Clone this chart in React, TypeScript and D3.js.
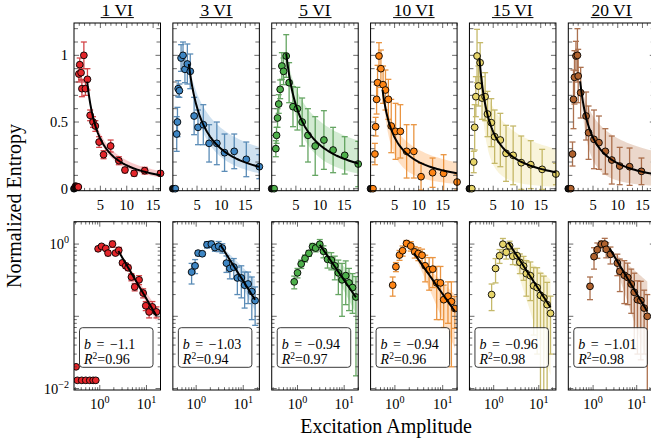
import React from "react";
import * as d3 from "d3";

// ---------- data ----------
const titles = ["1 VI", "3 VI", "5 VI", "10 VI", "15 VI", "20 VI"];
const markerColors = ["#e4252a", "#3e86c4", "#4daf4a", "#ff8515", "#e7d56a", "#b0622e"];
const errorColors = ["#cf3236", "#4a80b0", "#559c52", "#e88a2e", "#bfb25a", "#a4623c"];

const amp1 = [0.31, 0.33, 0.41, 0.5, 0.61, 0.72, 0.82, 0.92, 1.09, 1.34, 1.5, 1.87, 2.17, 2.55, 3.06, 3.6, 4.05, 4.76, 5.6, 6.95, 8.5, 9.66, 11.4, 13.4, 16.4];
const ent1 = [0.02, 0.013, 0.013, 0.013, 0.013, 0.013, 0.013, 0.86, 0.93, 0.87, 0.75, 1.0, 0.75, 0.82, 0.55, 0.5, 0.47, 0.35, 0.255, 0.32, 0.21, 0.14, 0.115, 0.135, 0.115];
const err1 = [0, 0, 0, 0, 0, 0, 0, 0.06, 0.05, 0.05, 0.06, 0.1, 0.05, 0.08, 0.04, 0.04, 0.04, 0.04, 0.03, 0.045, 0.03, 0.02, 0.02, 0.025, 0.02];

const amp3 = [0.5, 0.8, 0.95, 1.1, 1.35, 1.7, 2.1, 2.5, 3.0, 3.6, 4.4, 5.2, 6.3, 7.5, 9.1, 10.7, 12.7, 15.2, 17.9];
const ent3 = [0, 0.41, 0.5, 0.75, 0.735, 0.98, 1.0, 0.895, 0.935, 0.88, 0.545, 0.46, 0.48, 0.34, 0.34, 0.27, 0.28, 0.22, 0.165];
const err3 = [0, 0.13, 0.11, 0.06, 0.05, 0.1, 0.1, 0.1, 0.15, 0.13, 0.14, 0.13, 0.15, 0.14, 0.16, 0.14, 0.13, 0.13, 0.09];

const amp5 = [0.5, 0.85, 1.0, 1.2, 1.45, 1.75, 2.1, 2.45, 3.0, 3.6, 4.4, 5.3, 6.3, 7.5, 9.0, 10.8, 12.7, 15.1, 17.9];
const ent5 = [0, 0.3, 0.4, 0.53, 0.635, 0.745, 0.92, 0.88, 0.995, 0.795, 0.615, 0.6, 0.5, 0.4, 0.32, 0.365, 0.29, 0.25, 0.185];
const err5 = [0, 0.06, 0.06, 0.07, 0.07, 0.07, 0.1, 0.1, 0.16, 0.15, 0.15, 0.16, 0.18, 0.2, 0.22, 0.22, 0.17, 0.14, 0.17];

const amp10 = [0.5, 0.9, 1.05, 1.25, 1.45, 1.75, 2.15, 2.6, 3.1, 3.7, 4.3, 5.2, 6.2, 7.5, 9.0, 10.5, 12.9, 15.2, 18.0];
const ent10 = [0, 0.26, 0.465, 0.67, 0.795, 0.995, 0.9, 0.78, 0.74, 0.67, 0.47, 0.43, 0.43, 0.28, 0.28, 0.09, 0.12, 0.115, 0.05];
const ent10Log = [0, 0.27, 0.485, 0.705, 0.81, 1.02, 0.94, 0.78, 0.74, 0.7, 0.5, 0.44, 0.45, 0.29, 0.29, 0.17, 0.19, 0.16, 0.128];
const err10 = [0, 0.08, 0.07, 0.11, 0.13, 0.1, 0.14, 0.14, 0.15, 0.15, 0.2, 0.21, 0.2, 0.2, 0.2, 0.1, 0.11, 0.14, 0.06];

const amp15 = [0.5, 0.9, 1.1, 1.35, 1.6, 1.9, 2.25, 2.65, 3.3, 3.8, 4.6, 5.3, 6.5, 7.7, 9.2, 10.9, 12.9, 15.3, 18.2];
const ent15 = [0, 0.2, 0.46, 0.69, 0.995, 0.77, 0.945, 0.68, 0.69, 0.56, 0.495, 0.39, 0.365, 0.265, 0.25, 0.195, 0.18, 0.145, 0.11];
const err15 = [0, 0.08, 0.17, 0.15, 0.2, 0.15, 0.15, 0.16, 0.18, 0.17, 0.18, 0.2, 0.2, 0.21, 0.22, 0.2, 0.18, 0.15, 0.08];

const amp20 = [0.5, 0.85, 1.05, 1.25, 1.55, 1.85, 2.0, 2.5, 3.6, 4.1, 5.2, 6.2, 7.5, 8.8, 10.4, 12.4, 14.8, 17.5];
const ent20 = [0, 0.26, 0.67, 0.835, 0.995, 1.0, 0.845, 0.72, 0.545, 0.42, 0.37, 0.345, 0.28, 0.215, 0.17, 0.165, 0.13, 0.1];
const err20 = [0, 0.09, 0.22, 0.2, 0.11, 0.2, 0.2, 0.19, 0.18, 0.2, 0.22, 0.2, 0.17, 0.18, 0.14, 0.14, 0.1, 0.1];

const slopeB = [-1.1, -1.03, -0.94, -0.94, -0.96, -1.01];
const slopeLabels = ["\u22121.1", "\u22121.03", "\u22120.94", "\u22120.94", "\u22120.96", "\u22121.01"];
const rSquared = ["0.96", "0.94", "0.97", "0.96", "0.98", "0.98"];
const fitA = [2.2, 3.2, 2.85, 1.75, 2.0, 1.95];
const fitALog = [2.2, 3.3, 2.75, 1.77, 2.15, 2.1];
const fitStart = [2.5, 3.3, 3.0, 2.5, 2.1, 2.4];
const bandUp = [0.14, 0.38, 0.36, 0.27, 0.41, 0.48];
const bandDown = [0.09, 0.21, 0.29, 0.6, 1.0, 0.8];
const logAmpMin = [0.28, 0.32, 0.28, 0.31, 0.29, 0.27];
const logAmpMax = [20, 22, 20, 20, 24, 26];

const topEntropyDomain = [-0.015, 1.2425];
const logEntropyDomain = [0.00955, 2.04];
const topYTicks = [0, 0.5, 1];
const topYLabels = ["0", "0.5", "1"];
const topXTicks = [5, 10, 15];
const logXTicks = [1, 10];
const logYTicks = [0.01, 0.1, 1];

const amps = [amp1, amp3, amp5, amp10, amp15, amp20];
const ents = [ent1, ent3, ent5, ent10, ent15, ent20];
const entsLog = [ent1, ent3, ent5, ent10Log, ent15, ent20];
const errs = [err1, err3, err5, err10, err15, err20];

// ---------- layout ----------
const W = 651, H = 444;
const panelLeft = 74, panelStep = 98.86, panelWidth = 86.5;
const topRow = { y0: 23, y1: 190.7 };
const logRow = { y0: 221.7, y1: 390 };
const FONT = "'Liberation Serif', 'Times New Roman', serif";
const tickColor = "#444";
const R = 3.4;

function logMinor(lo: number, hi: number) {
  const out: number[] = [];
  for (let e = Math.floor(Math.log10(lo)); e <= Math.ceil(Math.log10(hi)); e++) {
    for (let k = 1; k <= 9; k++) {
      const v = k * Math.pow(10, e);
      if (v >= lo && v <= hi) out.push(v);
    }
  }
  return out;
}

function fitSamples(x0: number, x1: number) {
  return d3.range(0, 61).map((k) => x0 * Math.pow(x1 / x0, k / 60));
}

function ErrorBars({ pts, xs, ys, color, bottom }: any) {
  return (
    <g stroke={color} strokeWidth={1.3} opacity={0.9}>
      {pts.map((p: any, k: number) => {
        if (!p.e) return null;
        const cx = xs(p.x);
        const yt = ys(p.y + p.e);
        const lowV = p.y - p.e;
        const yb = lowV > 0 || !bottom.log ? ys(lowV) : bottom.y + 20;
        return (
          <g key={k}>
            <line x1={cx} x2={cx} y1={yt} y2={yb} />
            <line x1={cx - 3} x2={cx + 3} y1={yt} y2={yt} />
            <line x1={cx - 3} x2={cx + 3} y1={yb} y2={yb} />
          </g>
        );
      })}
    </g>
  );
}

function TopPanel({ i }: { i: number }) {
  const amp = amps[i], ent = ents[i], err = errs[i];
  const x0 = panelLeft + i * panelStep;
  const xmax = d3.max(amp) as number;
  const xs = d3.scaleLinear().domain([0, xmax]).range([x0, x0 + panelWidth]);
  const ys = d3.scaleLinear().domain(topEntropyDomain).range([topRow.y1, topRow.y0]);
  const pts = amp.map((x, k) => ({ x, y: ent[k], e: err[k] }));
  const fx = fitSamples(fitStart[i], xmax);
  const f = (x: number) => fitA[i] * Math.pow(x, slopeB[i]);
  const line = d3.line<number>().x((x) => xs(x)).y((x) => ys(f(x)));
  const area = d3
    .area<number>()
    .x((x) => xs(x))
    .y0((x) => ys(f(x) * Math.pow(x / fitStart[i], -bandDown[i])))
    .y1((x) => ys(f(x) * Math.pow(x / fitStart[i], bandUp[i])));
  const minorX = d3.range(1, Math.floor(xmax) + 1).filter((v) => v % 5 !== 0);
  const minorY = d3.range(1, 13).map((v) => v / 10).filter((v) => v !== 0.5 && v !== 1);
  const clipId = `clipTop${i}`;
  const yb = topRow.y1, yt = topRow.y0, xl = x0, xr = x0 + panelWidth;
  const mid = x0 + panelWidth / 2;
  const ulHalf = (titles[i].length * 8.3) / 2;
  return (
    <g>
      <defs>
        <clipPath id={clipId}>
          <rect x={xl} y={yt} width={panelWidth} height={yb - yt} />
        </clipPath>
      </defs>
      <g clipPath={`url(#${clipId})`}>
        <path d={area(fx) || ""} fill={markerColors[i]} opacity={0.25} />
        <ErrorBars pts={pts} xs={xs} ys={ys} color={errorColors[i]} bottom={{ log: false, y: yb }} />
      </g>
      <g stroke={tickColor} strokeWidth={0.8}>
        {topXTicks.map((v) => (
          <g key={"mx" + v}>
            <line x1={xs(v)} x2={xs(v)} y1={yb} y2={yb - 5} />
            <line x1={xs(v)} x2={xs(v)} y1={yt} y2={yt + 5} />
          </g>
        ))}
        {minorX.map((v) => (
          <g key={"nx" + v}>
            <line x1={xs(v)} x2={xs(v)} y1={yb} y2={yb - 2.8} />
            <line x1={xs(v)} x2={xs(v)} y1={yt} y2={yt + 2.8} />
          </g>
        ))}
        {topYTicks.map((v) => (
          <g key={"my" + v}>
            <line x1={xl} x2={xl + 5} y1={ys(v)} y2={ys(v)} />
            <line x1={xr} x2={xr - 5} y1={ys(v)} y2={ys(v)} />
          </g>
        ))}
        {minorY.map((v) => (
          <g key={"ny" + v}>
            <line x1={xl} x2={xl + 4} y1={ys(v)} y2={ys(v)} />
            <line x1={xr} x2={xr - 4} y1={ys(v)} y2={ys(v)} />
          </g>
        ))}
      </g>
      <circle cx={xs(0)} cy={ys(0)} r={R} fill="#111" stroke="#000" strokeWidth={0.9} />
      {pts.map((p, k) => (
        <circle key={k} cx={xs(p.x)} cy={ys(p.y)} r={R} fill={markerColors[i]} stroke="#000" strokeWidth={0.9} />
      ))}
      <g clipPath={`url(#${clipId})`}>
        <path d={line(fx) || ""} fill="none" stroke="#000" strokeWidth={2} />
      </g>
      <rect x={xl} y={yt} width={panelWidth} height={yb - yt} fill="none" stroke="#000" strokeWidth={1} />
      {topXTicks.map((v) => (
        <text key={"lx" + v} x={xs(v)} y={210} textAnchor="middle" fontFamily={FONT} fontSize={14.5}>
          {v}
        </text>
      ))}
      {i === 0 &&
        topYTicks.map((v, k) => (
          <text key={"ly" + v} x={xl - 6} y={ys(v) + 5} textAnchor="end" fontFamily={FONT} fontSize={14.5}>
            {topYLabels[k]}
          </text>
        ))}
      <text x={mid} y={15.5} textAnchor="middle" fontFamily={FONT} fontSize={17.5}>
        {titles[i]}
      </text>
      <line x1={mid - ulHalf} x2={mid + ulHalf} y1={17.6} y2={17.6} stroke="#000" strokeWidth={1} />
    </g>
  );
}

function Pow10({ x, y, exp, anchor, size }: any) {
  return (
    <text x={x} y={y} textAnchor={anchor} fontFamily={FONT} fontSize={size}>
      10
      <tspan fontSize={size * 0.7} dy={-6}>
        {exp}
      </tspan>
    </text>
  );
}

function LogPanel({ i }: { i: number }) {
  const amp = amps[i], ent = entsLog[i], err = errs[i];
  const x0 = panelLeft + i * panelStep;
  const xs = d3.scaleLog().domain([logAmpMin[i], logAmpMax[i]]).range([x0, x0 + panelWidth]);
  const ys = d3.scaleLog().domain(logEntropyDomain).range([logRow.y1, logRow.y0]);
  const pts = amp.map((x, k) => ({ x, y: ent[k], e: err[k] })).filter((p) => p.y > 0);
  const xmax = d3.max(amp) as number;
  const fx = fitSamples(fitStart[i], xmax);
  const f = (x: number) => fitALog[i] * Math.pow(x, slopeB[i]);
  const line = d3.line<number>().x((x) => xs(x)).y((x) => ys(f(x)));
  const area = d3
    .area<number>()
    .x((x) => xs(x))
    .y0((x) => ys(Math.max(f(x) * Math.pow(x / fitStart[i], -bandDown[i]), 1e-4)))
    .y1((x) => ys(f(x) * Math.pow(x / fitStart[i], bandUp[i])));
  const clipId = `clipLog${i}`;
  const yb = logRow.y1, yt = logRow.y0, xl = x0, xr = x0 + panelWidth;
  const minorX = logMinor(logAmpMin[i], logAmpMax[i]).filter((v) => !logXTicks.includes(v));
  const minorY = logMinor(logEntropyDomain[0], logEntropyDomain[1]).filter(
    (v) => !logYTicks.some((t) => Math.abs(t - v) < 1e-9)
  );
  const bx = xl + 5.5, bw = panelWidth - 13;
  return (
    <g>
      <defs>
        <clipPath id={clipId}>
          <rect x={xl} y={yt} width={panelWidth} height={yb - yt} />
        </clipPath>
      </defs>
      <g clipPath={`url(#${clipId})`}>
        <path d={area(fx) || ""} fill={markerColors[i]} opacity={0.25} />
        <ErrorBars pts={pts} xs={xs} ys={ys} color={errorColors[i]} bottom={{ log: true, y: yb }} />
        {pts.map((p, k) => (
          <circle key={k} cx={xs(p.x)} cy={ys(p.y)} r={R} fill={markerColors[i]} stroke="#000" strokeWidth={0.9} />
        ))}
        <path d={line(fx) || ""} fill="none" stroke="#000" strokeWidth={2} />
      </g>
      <g stroke={tickColor} strokeWidth={0.8}>
        {logXTicks.map((v) => (
          <g key={"mx" + v}>
            <line x1={xs(v)} x2={xs(v)} y1={yb} y2={yb - 5} />
            <line x1={xs(v)} x2={xs(v)} y1={yt} y2={yt + 5} />
          </g>
        ))}
        {minorX.map((v, k) => (
          <g key={"nx" + k}>
            <line x1={xs(v)} x2={xs(v)} y1={yb} y2={yb - 2.8} />
            <line x1={xs(v)} x2={xs(v)} y1={yt} y2={yt + 2.8} />
          </g>
        ))}
        {logYTicks.map((v) => (
          <g key={"my" + v}>
            <line x1={xl} x2={xl + 5} y1={ys(v)} y2={ys(v)} />
            <line x1={xr} x2={xr - 5} y1={ys(v)} y2={ys(v)} />
          </g>
        ))}
        {minorY.map((v, k) => (
          <g key={"ny" + k}>
            <line x1={xl} x2={xl + 2.8} y1={ys(v)} y2={ys(v)} />
            <line x1={xr} x2={xr - 2.8} y1={ys(v)} y2={ys(v)} />
          </g>
        ))}
      </g>
      <rect x={xl} y={yt} width={panelWidth} height={yb - yt} fill="none" stroke="#000" strokeWidth={1} />
      <rect x={bx} y={327.7} width={bw} height={39.6} rx={3} fill="#fff" fillOpacity={0.85} stroke="#222" strokeWidth={0.9} />
      <text x={bx + 4.5} y={349} fontFamily={FONT} fontSize={14} wordSpacing={2}>
        <tspan fontStyle="italic">b</tspan>
        {" = " + slopeLabels[i]}
      </text>
      <text x={bx + 4.5} y={363.5} fontFamily={FONT} fontSize={14}>
        <tspan fontStyle="italic">R</tspan>
        <tspan fontSize={9.5} dy={-5}>2</tspan>
        <tspan dy={5}>{"=" + rSquared[i]}</tspan>
      </text>
      {logXTicks.map((v) => (
        <Pow10 key={"lx" + v} x={xs(v)} y={409} exp={Math.round(Math.log10(v))} anchor="middle" size={14.5} />
      ))}
      {i === 0 && (
        <g>
          <Pow10 x={xl - 5} y={ys(1) + 5} exp="0" anchor="end" size={14.5} />
          <Pow10 x={xl - 5} y={ys(0.01) + 5} exp={"\u22122"} anchor="end" size={14.5} />
        </g>
      )}
    </g>
  );
}

export default function App() {
  return (
    <svg
      width={W}
      height={H}
      viewBox={`0 0 ${W} ${H}`}
      style={{ position: "absolute", left: 0, top: 0, background: "#fff" }}
    >
      <rect x={0} y={0} width={W} height={H} fill="#fff" />
      {titles.map((_, i) => (
        <TopPanel key={"t" + i} i={i} />
      ))}
      {titles.map((_, i) => (
        <LogPanel key={"l" + i} i={i} />
      ))}
      <text transform={`translate(21, 206) rotate(-90)`} textAnchor="middle" fontFamily={FONT} fontSize={20}>
        Normalized Entropy
      </text>
      <text x={386} y={433} textAnchor="middle" fontFamily={FONT} fontSize={20}>
        Excitation Amplitude
      </text>
    </svg>
  );
}
